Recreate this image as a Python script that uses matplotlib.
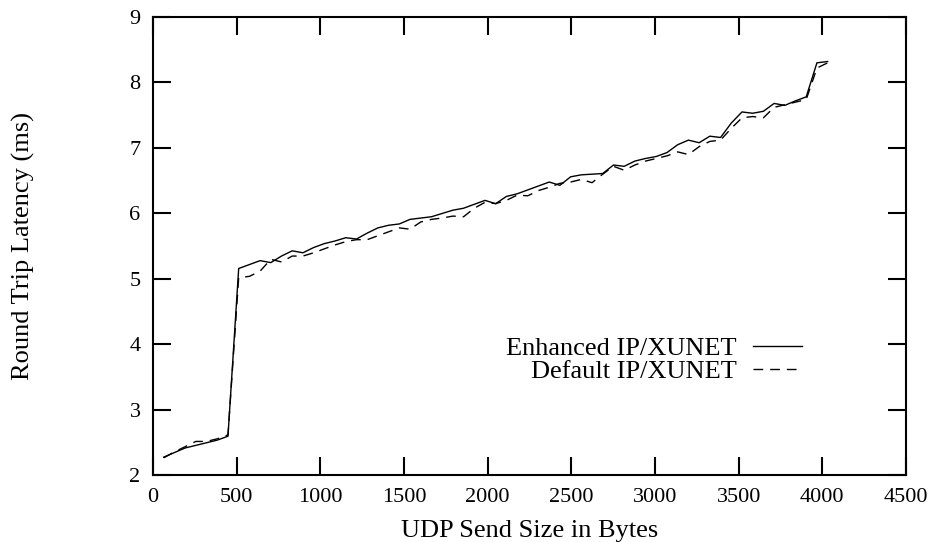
import matplotlib
matplotlib.use("Agg")
import matplotlib.pyplot as plt

# UDP send sizes (bytes), 64-byte steps
sizes = list(range(64, 4033, 64))

enhanced = [2.28, 2.35, 2.42, 2.46, 2.50, 2.54, 2.60,
            5.16, 5.22, 5.28, 5.25, 5.35, 5.43, 5.40, 5.48, 5.54,
            5.58, 5.63, 5.61, 5.70, 5.78, 5.82, 5.84, 5.91, 5.93,
            5.95, 6.00, 6.05, 6.08, 6.14, 6.20, 6.15, 6.26, 6.30,
            6.36, 6.42, 6.48, 6.43, 6.56, 6.59, 6.60, 6.61, 6.74,
            6.72, 6.80, 6.84, 6.87, 6.93, 7.05, 7.12, 7.08, 7.18,
            7.16, 7.38, 7.55, 7.53, 7.56, 7.68, 7.65, 7.72, 7.78,
            8.30, 8.32]

default = [2.27, 2.36, 2.44, 2.52, 2.52, 2.56, 2.62,
           5.02, 5.04, 5.12, 5.30, 5.26, 5.35, 5.35, 5.40, 5.46,
           5.52, 5.57, 5.60, 5.60, 5.66, 5.72, 5.78, 5.76, 5.87,
           5.91, 5.93, 5.96, 5.95, 6.08, 6.17, 6.15, 6.20, 6.28,
           6.27, 6.35, 6.40, 6.46, 6.48, 6.52, 6.47, 6.60, 6.72,
           6.66, 6.74, 6.80, 6.84, 6.88, 6.94, 6.90, 7.02, 7.10,
           7.12, 7.30, 7.46, 7.48, 7.46, 7.62, 7.66, 7.70, 7.74,
           8.22, 8.30]

xticks = [0, 500, 1000, 1500, 2000, 2500, 3000, 3500, 4000, 4500]
yticks = [2, 3, 4, 5, 6, 7, 8, 9]

plt.rcParams['font.family'] = ['Liberation Serif', 'DejaVu Serif']
plt.rcParams['font.size'] = 19

fig = plt.figure(figsize=(9.33, 5.42), dpi=100)
ax = fig.add_axes([0.164, 0.1227, 0.807, 0.846])

ax.plot(sizes, enhanced, color='black', linewidth=1.0, label='Enhanced IP/XUNET')
ax.plot(sizes, default, color='black', linewidth=1.0, linestyle=(0, (7, 5)),
        label='Default IP/XUNET')

ax.set_xlim(0, 4500)
ax.set_ylim(2, 9)
ax.set_xticks(xticks)
ax.set_yticks(yticks)
ax.tick_params(direction='in', length=13, width=1.5, top=True, right=True,
               labelsize=16)
ax.tick_params(axis='x', pad=9)
ax.tick_params(axis='y', pad=9)
for s in ax.spines.values():
    s.set_linewidth(1.5)

ax.set_xlabel('UDP Send Size in Bytes')
ax.set_ylabel('Round Trip Latency (ms)')
ax.xaxis.set_label_coords(0.5, -0.098)
ax.yaxis.set_label_coords(-0.157, 0.5)

ax.legend(loc='center right', bbox_to_anchor=(0.862, 0.252), frameon=False,
          markerfirst=False, handlelength=1.86, handletextpad=0.6,
          labelspacing=0.0, borderpad=0, borderaxespad=0)

fig.savefig('out.png', dpi=100)
